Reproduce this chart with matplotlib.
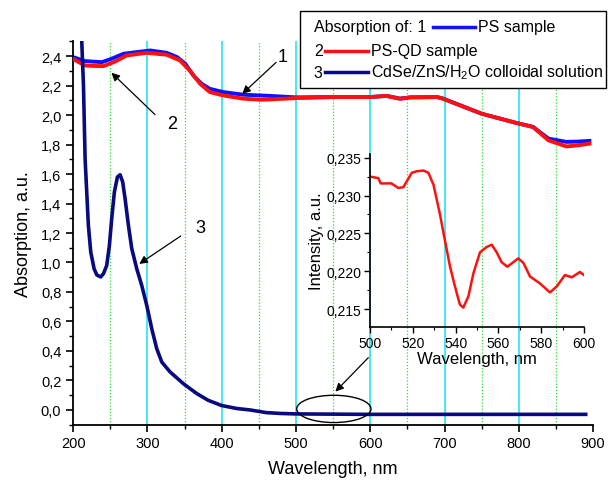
import matplotlib
matplotlib.use("Agg")
import matplotlib.pyplot as plt
from matplotlib.patches import Ellipse, Rectangle
from matplotlib.lines import Line2D
from matplotlib.ticker import MultipleLocator, FuncFormatter

plt.rcParams['font.family'] = ['Liberation Sans', 'DejaVu Sans']
plt.rcParams['mathtext.fontset'] = 'custom'
plt.rcParams['mathtext.rm'] = 'Liberation Sans'

# 1 - PS sample (blue)
ps_x = [200, 216, 228, 239, 252, 268, 286, 304, 326, 340, 351, 362, 373, 384, 402,
        429, 465, 500, 550, 600, 622, 640, 654, 690, 698, 750, 797, 819, 840, 864, 880, 895]
ps_y = [2.393, 2.366, 2.362, 2.359, 2.382, 2.416, 2.427, 2.438, 2.422, 2.393, 2.348, 2.268, 2.212, 2.178, 2.156,
        2.138, 2.13, 2.12, 2.122, 2.122, 2.13, 2.112, 2.12, 2.122, 2.112, 2.009, 1.946, 1.92, 1.84, 1.818, 1.82, 1.825]

# 2 - PS-QD sample (red)
psqd_x = [200, 216, 228, 241, 255, 272, 299, 326, 344, 357, 371, 384, 402, 429, 452,
          465, 500, 550, 600, 622, 640, 654, 690, 698, 750, 797, 819, 840, 864, 880, 895]
psqd_y = [2.38, 2.336, 2.333, 2.332, 2.359, 2.404, 2.422, 2.409, 2.37, 2.302, 2.212, 2.156, 2.133, 2.111, 2.104,
          2.106, 2.115, 2.122, 2.122, 2.13, 2.11, 2.12, 2.122, 2.11, 2.009, 1.946, 1.919, 1.828, 1.787, 1.795, 1.806]

# 3 - CdSe/ZnS/H2O colloidal solution (navy)
qd_x = [208, 211.7, 214, 216.2, 218.4, 220.6, 223.8, 228.3, 232, 237.2, 241, 245.3, 248.9, 252, 255.6,
        259.7, 263.3, 266.8, 270, 274.5, 279, 285.7, 292.4, 299.2, 305.9, 312.6, 319.4, 330.5, 348.5,
        366.5, 382, 400, 420, 438, 460, 480, 500, 600, 700, 800, 890]
qd_y = [3.0, 2.5, 2.2, 1.704, 1.478, 1.252, 1.071, 0.958, 0.915, 0.902, 0.925, 0.98, 1.116, 1.297, 1.478,
        1.58, 1.595, 1.546, 1.433, 1.252, 1.094, 0.958, 0.845, 0.709, 0.551, 0.416, 0.325, 0.258, 0.178,
        0.111, 0.065, 0.03, 0.01, 0.0, -0.018, -0.024, -0.027, -0.03, -0.03, -0.03, -0.03]

# inset: PS-QD sample, 500-600 nm
ins_x = [500, 503.9, 505, 507.8, 510, 513.2, 515.6, 519.5, 521.8, 525, 527.3, 529.7, 532.7,
         535, 537.4, 539.7, 542, 543.6, 546, 548.3, 551.4, 554.5, 556.9, 559.2, 561.5, 564.2,
         567, 569.3, 571.7, 574.8, 579.4, 584.1, 587.3, 591.1, 594.3, 598.1, 600]
ins_y = [0.2325, 0.2323, 0.2316, 0.2316, 0.2316, 0.2310, 0.2311, 0.2330, 0.2332, 0.2333, 0.2330, 0.2314, 0.2275,
         0.2241, 0.2206, 0.2180, 0.2156, 0.2152, 0.2167, 0.2197, 0.2225, 0.2232, 0.2235, 0.2225, 0.2212, 0.2206,
         0.2212, 0.2217, 0.2211, 0.2193, 0.2184, 0.2172, 0.2180, 0.2195, 0.2192, 0.2199, 0.2195]

cyan_lines = [300, 400, 500, 600, 700, 800]
green_lines = [250, 350, 450, 550, 650, 750, 850]

BLUE = '#1010ff'
RED = '#ff1010'
NAVY = '#0a0a80'


def comma(fmt):
    return FuncFormatter(lambda v, p: format(v, fmt).replace('.', ','))


fig = plt.figure(figsize=(6.14, 4.81), dpi=100)
ax = fig.add_axes([0.119, 0.115, 0.847, 0.797])

for x in cyan_lines:
    ax.axvline(x, color='#22e5f0', lw=1.2, zorder=0)
for x in green_lines:
    ax.axvline(x, color='#33dd33', lw=0.9, ls=(0, (1, 1.5)), zorder=0)

ax.plot(ps_x, ps_y, color=BLUE, lw=2.8, zorder=2, solid_joinstyle='round')
ax.plot(psqd_x, psqd_y, color=RED, lw=2.8, zorder=3, solid_joinstyle='round')
ax.plot(qd_x, qd_y, color=NAVY, lw=2.6, zorder=4, solid_joinstyle='round')

ax.set_xlim(200, 900)
ax.set_ylim(-0.1, 2.5)
ax.xaxis.set_major_locator(MultipleLocator(100))
ax.xaxis.set_minor_locator(MultipleLocator(50))
ax.yaxis.set_major_locator(MultipleLocator(0.2))
ax.yaxis.set_minor_locator(MultipleLocator(0.1))
ax.yaxis.set_major_formatter(comma('.1f'))
ax.spines['top'].set_visible(False)
ax.spines['right'].set_visible(False)
ax.spines['left'].set_linewidth(1.3)
ax.spines['bottom'].set_linewidth(1.3)
ax.tick_params(which='major', direction='out', length=5, width=1.2, labelsize=10.5)
ax.tick_params(which='minor', direction='out', length=3, width=1.0)
ax.set_xlabel('Wavelength, nm', fontsize=13, labelpad=7)
ax.set_ylabel('Absorption, a.u.', fontsize=13, labelpad=6)

arrow = dict(arrowstyle='-|>', color='black', lw=0.9, mutation_scale=12)
ax.annotate('', xy=(425, 2.131), xytext=(476, 2.37), arrowprops=arrow)
ax.text(482, 2.40, '1', fontsize=13, ha='center', va='center')
ax.annotate('', xy=(249, 2.30), xytext=(313, 1.99), arrowprops=arrow)
ax.text(333, 1.94, '2', fontsize=13, ha='center', va='center')
ax.annotate('', xy=(286, 0.98), xytext=(348, 1.19), arrowprops=arrow)
ax.text(371, 1.24, '3', fontsize=13, ha='center', va='center')

ax.add_patch(Ellipse((551, 0.007), 100, 0.185, fill=False, ec='black', lw=1.0, zorder=5))
ax.annotate('', xy=(550.5, 0.111), xytext=(600, 0.368), arrowprops=arrow)

# legend box
fig.add_artist(Rectangle((0.4886, 0.815), 0.4984, 0.16, transform=fig.transFigure,
                         fill=True, fc='white', ec='black', lw=1.0, zorder=10))
rows = [(0.942, 'Absorption of: 1', 0.511, 0.705, 0.774, 0.779, 'PS sample', BLUE),
        (0.892, '2', 0.511, 0.529, 0.599, 0.604, 'PS-QD sample', RED),
        (0.848, '3', 0.511, 0.529, 0.599, 0.604, 'CdSe/ZnS/H$_2$O colloidal solution', NAVY)]
for yy, pre, xp, x0, x1, xl, lab, c in rows:
    fig.text(xp, yy, pre, fontsize=11.5, va='center', ha='left', zorder=11)
    fig.add_artist(Line2D([x0, x1], [yy, yy], transform=fig.transFigure, color=c, lw=2.5, zorder=11))
    fig.text(xl, yy, lab, fontsize=11.5, va='center', ha='left', zorder=11)

# inset
axi = fig.add_axes([0.6026, 0.3175, 0.3485, 0.3605])
axi.patch.set_alpha(0)
axi.plot(ins_x, ins_y, color=RED, lw=1.8, solid_joinstyle='round')
axi.set_xlim(500, 600)
axi.set_ylim(0.2126, 0.2355)
axi.xaxis.set_major_locator(MultipleLocator(20))
axi.xaxis.set_minor_locator(MultipleLocator(10))
axi.yaxis.set_major_locator(MultipleLocator(0.005))
axi.yaxis.set_minor_locator(MultipleLocator(0.0025))
axi.yaxis.set_major_formatter(comma('.3f'))
axi.spines['top'].set_visible(False)
axi.spines['right'].set_visible(False)
axi.spines['left'].set_linewidth(1.2)
axi.spines['bottom'].set_linewidth(1.2)
axi.tick_params(which='major', direction='out', length=4, width=1.0, labelsize=10, pad=2)
axi.tick_params(which='minor', direction='out', length=2.5, width=0.8)
axi.set_xlabel('Wavelength, nm', fontsize=12, labelpad=1)
axi.set_ylabel('Intensity, a.u.', fontsize=12, labelpad=2)

fig.savefig('out.png', dpi=100)
